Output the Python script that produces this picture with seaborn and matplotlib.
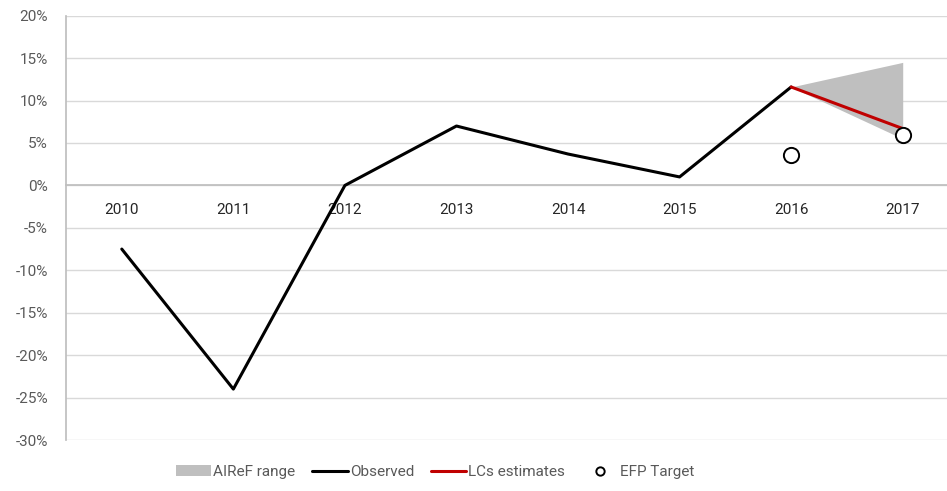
import matplotlib
matplotlib.use("Agg")
import matplotlib.pyplot as plt
import seaborn as sns
import pandas as pd
import numpy as np
from matplotlib.lines import Line2D
from matplotlib.patches import Patch

years = ["2010", "2011", "2012", "2013", "2014", "2015", "2016", "2017"]
observed = [-7.5, -24.0, 0.0, 7.0, 3.7, 1.0, 11.6]
lcs_years = ["2016", "2017"]
lcs_values = [11.6, 6.7]
range_years = ["2016", "2017"]
range_low = [11.6, 5.5]
range_high = [11.6, 14.5]
efp_years = ["2016", "2017"]
efp_values = [3.6, 5.9]
yticks = [20, 15, 10, 5, 0, -5, -10, -15, -20, -25, -30]

sns.set_theme(style="white")
plt.rcParams['font.family'] = ['Roboto', 'DejaVu Sans']
fs = 11

pos = {y: i for i, y in enumerate(years)}
df_obs = pd.DataFrame({"x": [pos[y] for y in years[:len(observed)]], "v": observed})
df_lcs = pd.DataFrame({"x": [pos[y] for y in lcs_years], "v": lcs_values})
df_efp = pd.DataFrame({"x": [pos[y] for y in efp_years], "v": efp_values})

fig = plt.figure(figsize=(9.47, 4.91), dpi=100)
ax = fig.add_axes([66/947, 1 - 440/491, (947 - 66)/947, (440 - 15.7)/491])

grid_c = "#d9d9d9"
for t in yticks:
    ax.axhline(t, color=grid_c, lw=1.0, zorder=0)

ax.fill_between([pos[y] for y in range_years], range_low, range_high,
                color="#bfbfbf", lw=0, zorder=1)
sns.lineplot(data=df_obs, x="x", y="v", ax=ax, color="black", lw=2.2, zorder=3)
sns.lineplot(data=df_lcs, x="x", y="v", ax=ax, color="#c00000", lw=2.2, zorder=4)
sns.scatterplot(data=df_efp, x="x", y="v", ax=ax, s=120, facecolor="white",
                edgecolor="black", linewidth=1.4, zorder=5)

ax.set_xlim(-0.5, 7.397)
ax.set_ylim(-30, 20)
ax.set_yticks(yticks)
ax.set_yticklabels([f"{t}%" for t in yticks], color="#595959", fontsize=fs)
ax.set_xticks(range(len(years)))
ax.set_xticklabels(years, color="#595959", fontsize=fs)
ax.spines['bottom'].set_position(('data', 0))
ax.spines['bottom'].set_color("#bfbfbf")
ax.spines['left'].set_color("#bfbfbf")
ax.spines['top'].set_visible(False)
ax.spines['right'].set_visible(False)
ax.tick_params(axis='x', length=0, pad=13)
ax.tick_params(axis='y', length=0, pad=13)
ax.set_xlabel("")
ax.set_ylabel("")

handles = [
    Patch(facecolor="#bfbfbf", edgecolor="none"),
    Line2D([], [], color="black", lw=2.2),
    Line2D([], [], color="#c00000", lw=2.2),
    Line2D([], [], ls="none", marker="o", markersize=6, markerfacecolor="white",
           markeredgecolor="black", markeredgewidth=1.4),
]
labels = ["AIReF range", "Observed", "LCs estimates", "EFP Target"]
leg = fig.legend(handles, labels, loc="center", bbox_to_anchor=(435/947, 19/491),
                 ncol=4, frameon=False, fontsize=fs, handlelength=2.3,
                 handletextpad=0.15, columnspacing=1.1, handleheight=0.7)
for t in leg.get_texts():
    t.set_color("#595959")

fig.savefig("out.png", dpi=100)
